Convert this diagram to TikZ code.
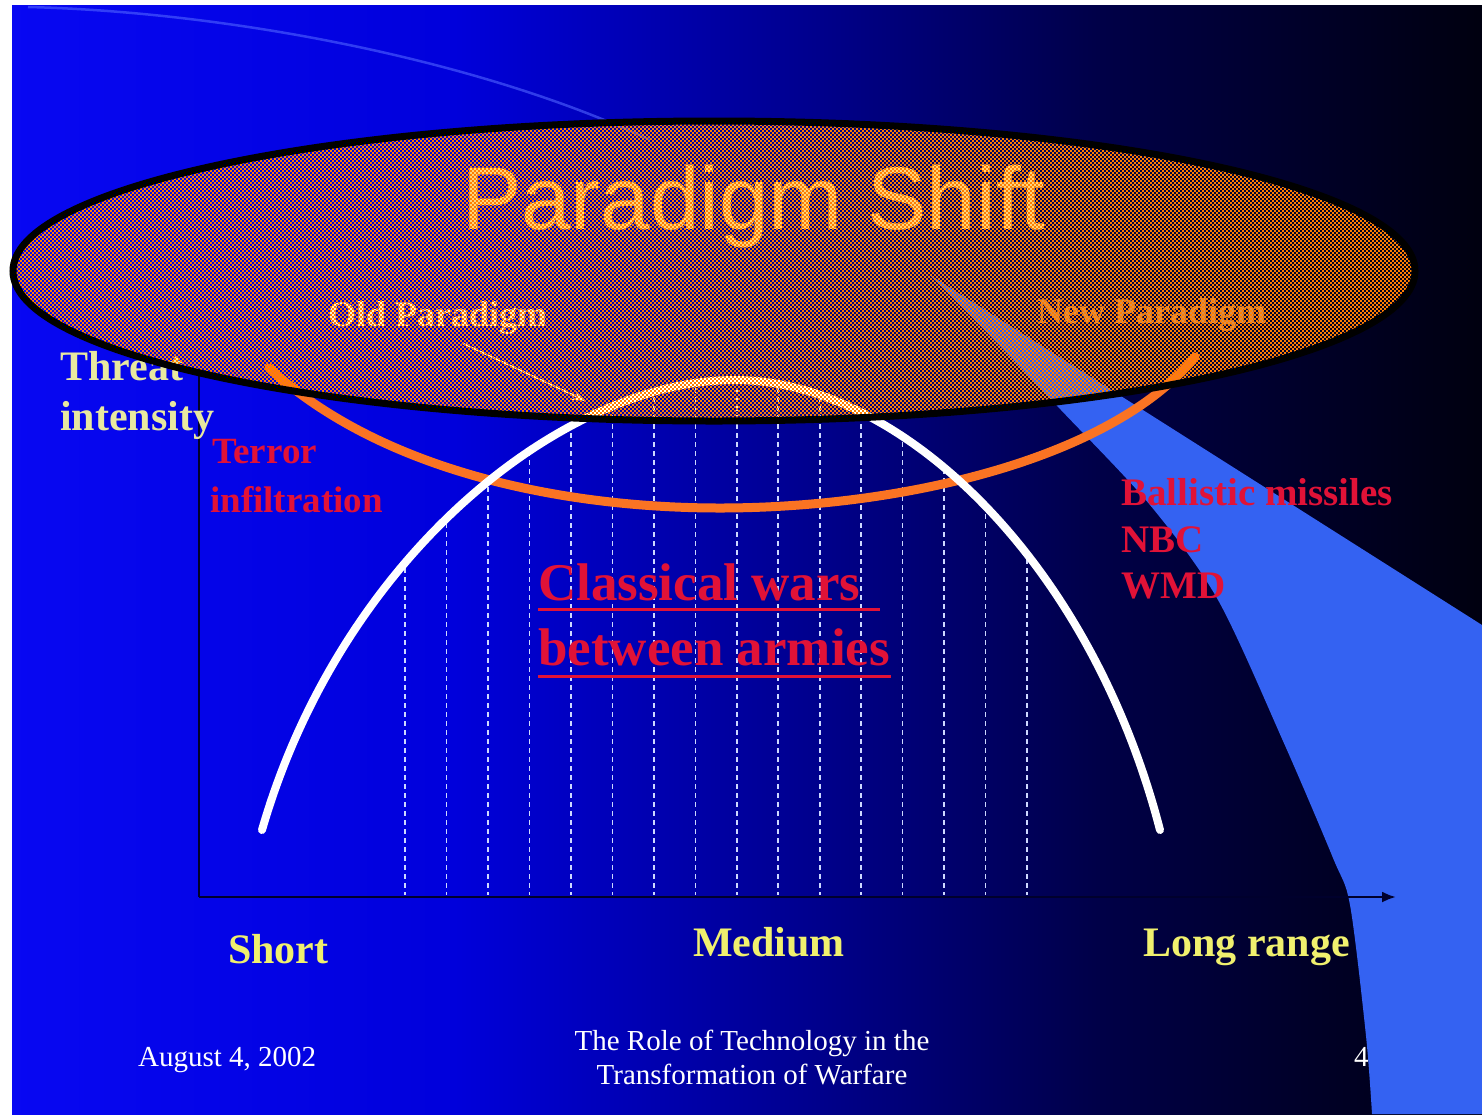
\documentclass[tikz,border=0pt]{standalone}
\usepackage{fontspec}
\setmainfont{Liberation Serif}
\newfontfamily\sansf{Liberation Sans}
\usetikzlibrary{arrows.meta}

% slide background: bright blue on the left fading to near black on the right
\pgfdeclarehorizontalshading{slidebg}{100bp}{%
  rgb(0bp)=(0.03,0.03,0.95); rgb(25bp)=(0.03,0.03,0.95); rgb(40bp)=(0,0,0.86);
  rgb(52bp)=(0,0,0.56); rgb(62bp)=(0,0,0.28); rgb(69bp)=(0,0,0.16);
  rgb(75bp)=(0,0,0.06); rgb(100bp)=(0,0,0.06)}

\definecolor{bandblue}{RGB}{52,98,242}
\definecolor{arcorange}{RGB}{250,115,35}
\definecolor{patorange}{RGB}{255,128,0}
\definecolor{labelyellow}{RGB}{240,240,110}
\definecolor{paleyellow}{RGB}{232,232,160}
\definecolor{alertred}{RGB}{225,18,55}
\definecolor{titlegold}{RGB}{252,210,130}
\definecolor{oldtext}{RGB}{248,235,220}
\definecolor{newtext}{RGB}{215,140,80}
\definecolor{gridwhite}{RGB}{205,215,255}
\definecolor{axisnavy}{RGB}{0,0,45}
\definecolor{arcline}{RGB}{80,100,255}

\tikzset{
  txt/.style={inner sep=0pt, anchor=base west},
  axislbl/.style={txt, text=labelyellow, font=\bfseries\fontsize{42bp}{50bp}\selectfont},
  ylbl/.style={txt, text=paleyellow, font=\bfseries\fontsize{42bp}{50bp}\selectfont},
  threatlbl/.style={txt, text=alertred, font=\bfseries\fontsize{37bp}{44bp}\selectfont},
  wmdlbl/.style={txt, text=alertred, font=\bfseries\fontsize{39bp}{46bp}\selectfont},
  biglbl/.style={txt, text=alertred, font=\bfseries\fontsize{53bp}{60bp}\selectfont},
  paralbl/.style={txt, font=\bfseries\fontsize{36bp}{42bp}\selectfont},
  footer/.style={inner sep=0pt, anchor=base, text=white, font=\fontsize{29bp}{34bp}\selectfont},
  redrule/.style={alertred, line width=3bp},
  gridline/.style={gridwhite, line width=1.6bp, dash pattern=on 5bp off 4bp},
  axisline/.style={axisnavy, line width=2.5bp},
  archline/.style={white, line width=8bp, line cap=round},
  intensityline/.style={arcorange, line width=9bp, line cap=round},
  checkrow/.style={patorange, line width=2bp, dash pattern=on 2bp off 2bp},
}

\begin{document}
\begin{tikzpicture}[x=1bp, y=-1bp]
\useasboundingbox (0,0) rectangle (1482,1114);
\fill[white] (0,0) rectangle (1482,1114);
\shade[shading=slidebg] (12,5) rectangle (1482,1114);

% faint decorative arc at the top left
\draw[arcline, line width=2.5bp, opacity=0.6] (28,7) .. controls (230,12) and (480,60) .. (650,140);

% light blue sweep on the right
\fill[bandblue] (930,275) -- (1482,625) -- (1482,1114)
  -- plot[smooth] coordinates {(1372,1114) (1366,1036) (1350,905) (1333,858) (1283,741) (1218,600) (1150,505) (1061,410) (1000,346) (930,275)}
  -- cycle;

% axes
\coordinate (yaxtop) at (199,372);
\coordinate (orig) at (199,897);
\coordinate (xaxend) at (1396,897);
\draw[axisline] (yaxtop) -- (orig);
\draw[axisline, -{Latex[length=14bp,width=11bp]}] (orig) -- (xaxend);

% dashed verticals inside the arch
\begin{scope}
  \clip (262,830) .. controls (340,560) and (560,380) .. (735,380)
        .. controls (900,380) and (1090,560) .. (1160,830)
        -- (1160,897) -- (262,897) -- cycle;
  \foreach \i in {0,...,15}{
    \draw[gridline] ({405+41.47*\i},370) -- ({405+41.47*\i},895);
  }
\end{scope}

% orange intensity curve
\draw[intensityline] (269,368) .. controls (380,470) and (560,508) .. (720,508)
  .. controls (900,508) and (1110,460) .. (1195,357);

% white arch
\draw[archline] (262,830) .. controls (340,560) and (560,380) .. (735,380)
  .. controls (900,380) and (1090,560) .. (1160,830);

% axis title
\node[ylbl] (threat) at (60,380) {Threat};
\node[ylbl] (intensity) at (60,430) {intensity};

% threat labels
\node[threatlbl] (terror) at (212,463) {Terror};
\node[threatlbl] (infil) at (210,512) {infiltration};
\node[wmdlbl] (ballistic) at (1121,505) {Ballistic missiles};
\node[wmdlbl] (nbc) at (1121,552) {NBC};
\node[wmdlbl] (wmd) at (1121,598) {WMD};

% central label with underlines
\node[biglbl] (cw1) at (538,600) {Classical wars};
\node[biglbl] (cw2) at (538,665) {between armies};
\draw[redrule] ([yshift=-9bp]cw1.base west) -- ++(342,0);
\draw[redrule] ([yshift=-11bp]cw2.base west) -- ++(353,0);

% paradigm labels
\node[paralbl, text=oldtext] (oldp) at (328,326) {Old Paradigm};
\node[paralbl, text=newtext] (newp) at (1037,323) {New Paradigm};
\coordinate (oldtail) at (462,343);
\coordinate (oldtip) at (586,401);
\draw[oldtext, line width=1.6bp, -{Stealth[length=14bp,width=10bp]}] (oldtail) -- (oldtip);

% title
\node[inner sep=0pt, anchor=base, text=titlegold, font=\sansf\fontsize{89bp}{100bp}\selectfont] (title) at (754,229) {Paradigm Shift};

% the shift ellipse: orange checker fill, then black rim
\begin{scope}
  \clip (714,271) ellipse [x radius=701bp, y radius=150bp];
  \foreach \r in {0,...,76}{
    \draw[checkrow] (10,{118+4*\r+1}) -- (1420,{118+4*\r+1});
    \draw[checkrow, dash phase=2bp] (10,{118+4*\r+3}) -- (1420,{118+4*\r+3});
  }
\end{scope}
\draw[black, line width=7bp] (714,271) ellipse [x radius=701bp, y radius=150bp];

% range labels
\node[axislbl] (short) at (228,963) {Short};
\node[axislbl] (medium) at (693,956) {Medium};
\node[axislbl] (long) at (1143,956) {Long range};

% footer
\node[footer, anchor=base west] (date) at (138,1066) {August 4, 2002};
\node[footer] (foot1) at (752,1050) {The Role of Technology in the};
\node[footer] (foot2) at (752,1084) {Transformation of Warfare};
\node[footer, anchor=base west] (page) at (1354,1066) {4};
\end{tikzpicture}
\end{document}
